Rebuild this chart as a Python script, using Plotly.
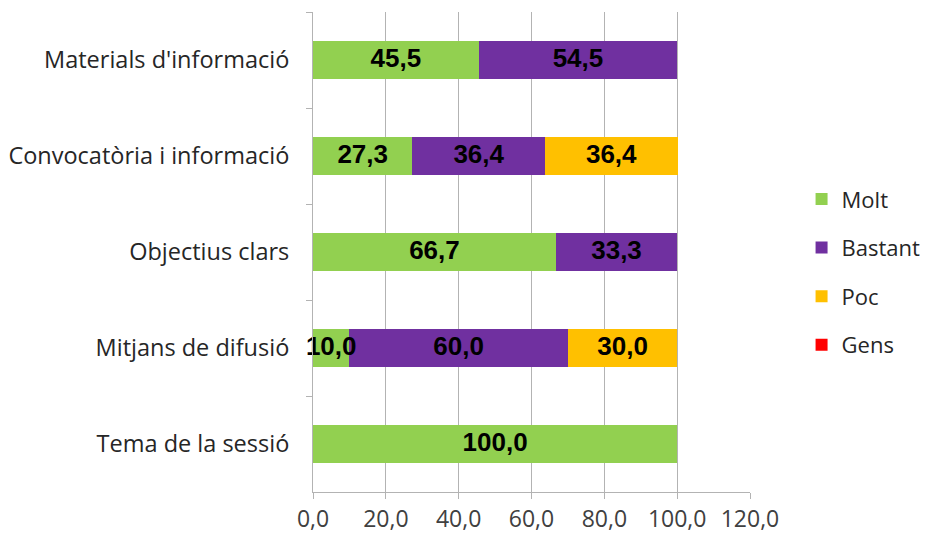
import plotly.graph_objects as go

categories = ["Materials d'informació", "Convocatòria i informació", "Objectius clars",
              "Mitjans de difusió", "Tema de la sessió"]
series_names = ["Molt", "Bastant", "Poc", "Gens"]
molt = [45.5, 27.3, 66.7, 10.0, 100.0]
bastant = [54.5, 36.4, 33.3, 60.0, None]
poc = [None, 36.4, None, 30.0, None]
gens = [0, 0, 0, 0, 0]
colors = ["#92D050", "#7030A0", "#FFC000", "#FF0000"]
x_ticks = [0, 20, 40, 60, 80, 100, 120]

FONT = "Open Sans"
fig = go.Figure()
all_series = [molt, bastant, poc, gens]
for i, (name, vals) in enumerate(zip(series_names, all_series)):
    fig.add_trace(go.Bar(
        y=categories, x=vals,
        name=name, orientation="h",
        marker=dict(color=colors[i], line=dict(width=0)),
        legendgroup=name,
        hoverinfo="skip",
    ))

# data labels, centred on each stacked segment, drawn above all bars
lab_x, lab_y, lab_t = [], [], []
for ci, cat in enumerate(categories):
    start = 0.0
    for vals in all_series[:3]:
        v = vals[ci]
        if v:
            lab_x.append(start + v / 2)
            lab_y.append(cat)
            lab_t.append(v)
            start += v
fig.add_trace(go.Scatter(
    x=lab_x, y=lab_y, mode="text",
    texttemplate="%{customdata:.1f}", customdata=lab_t,
    textposition="middle center", cliponaxis=False,
    textfont=dict(family="Liberation Sans", size=26, color="black", weight="bold"),
    showlegend=False, hoverinfo="skip",
))

fig.update_layout(
    barmode="stack",
    bargap=0.6,
    width=928, height=541,
    margin=dict(l=305, r=186, t=4, b=57, autoexpand=False),
    plot_bgcolor="white", paper_bgcolor="rgba(0,0,0,0)",
    separators=",.",
    font=dict(family=FONT, size=22, color="#262626"),
    showlegend=True,
    legend=dict(x=1.118, y=0.458, xanchor="left", yanchor="middle",
                traceorder="grouped", tracegroupgap=17,
                bgcolor="rgba(0,0,0,0)",
                font=dict(family=FONT, size=22, color="#262626"),
                itemwidth=30),
    xaxis=dict(range=[0, 120], tickvals=x_ticks, tickformat=".1f",
               showgrid=True, gridcolor="#B3B3B3", gridwidth=1,
               showline=True, linecolor="#B3B3B3", linewidth=1,
               ticks="outside", ticklen=6, tickcolor="#B3B3B3",
               zeroline=False, fixedrange=True, automargin=False,
               tickfont=dict(family=FONT, size=23, color="#404040")),
    yaxis=dict(autorange="reversed", showline=True, linecolor="#B3B3B3", linewidth=1,
               ticks="outside", ticklen=6, tickcolor="#B3B3B3", tickson="boundaries",
               showgrid=False, ticklabelstandoff=18, automargin=False,
               tickfont=dict(family=FONT, size=23.5, color="#262626")),
)

fig.write_html("out.html")
